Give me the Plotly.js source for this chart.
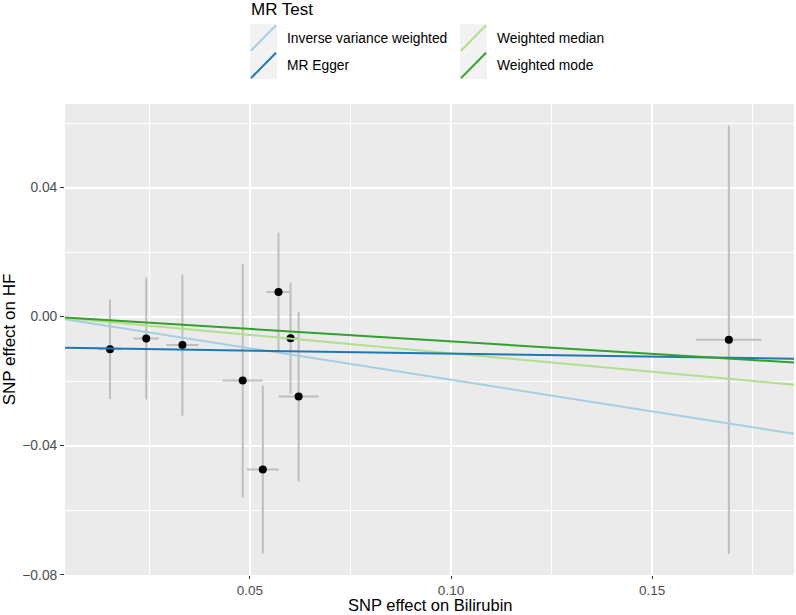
<!DOCTYPE html>
<html>
<head>
<meta charset="utf-8">
<script src="https://cdn.plot.ly/plotly-3.0.1.min.js"></script>
<style>
  html, body { margin: 0; padding: 0; background: #ffffff; }
  #chart { width: 796px; height: 615px; }
</style>
</head>
<body>
<div id="chart"></div>
<script>

// ==========================================================
// DATA  (SNP effects)
// ==========================================================

let snpX   = [0.0152, 0.0242, 0.0332, 0.0482, 0.0532, 0.0571, 0.0601, 0.0621, 0.1691];
let snpXse = [0.0030, 0.0031, 0.0040, 0.0050, 0.0040, 0.0030, 0.0021, 0.0050, 0.0081];

let snpY   = [-0.0101, -0.0068, -0.0088, -0.0198, -0.0474, 0.0076, -0.0067, -0.0248, -0.0072];
let snpYse = [ 0.0154,  0.0189,  0.0219,  0.0362,  0.0260, 0.0184,  0.0172,  0.0263,  0.0664];

// MR methods (legend order: row by row)
let methods    = ["Inverse variance weighted", "Weighted median", "MR Egger", "Weighted mode"];
let slopes     = [-0.196, -0.114, -0.0188, -0.0768];
let intercepts = [0, 0, -0.0096, 0];
let lineColors = ["#A6CEE3", "#B2DF8A", "#1F78B4", "#33A02C"];

let xRange = [0.004, 0.1853];
let yRange = [-0.0801, 0.0659];


// ==========================================================
// PIXEL -> PAPER HELPERS (legend and x title placement)
// ==========================================================

const PL = 65, PR = 794, PT = 104, PB = 575;

function px(x){ return (x - PL) / (PR - PL); }
function py(y){ return (PB - y) / (PB - PT); }


// ==========================================================
// TRACES
// ==========================================================

let traces = [];

// points with grey error bars
traces.push({
    x: snpX,
    y: snpY,
    type: "scatter",
    mode: "markers",
    marker: { color: "#000000", size: 8 },
    error_x: { type: "data", array: snpXse, visible: true, color: "#BEBEBE", thickness: 2, width: 0 },
    error_y: { type: "data", array: snpYse, visible: true, color: "#BEBEBE", thickness: 2, width: 0 },
    showlegend: false,
    hoverinfo: "x+y"
});

// regression lines (abline across the panel)
methods.forEach((name, i) => {
    traces.push({
        x: xRange,
        y: xRange.map(v => intercepts[i] + slopes[i] * v),
        type: "scatter",
        mode: "lines",
        name: name,
        line: { color: lineColors[i], width: 2 },
        showlegend: false
    });
});


// ==========================================================
// LEGEND (ggplot style keys)
// ==========================================================

let shapes = [];
let annotations = [];

let keyCols = [250, 460];
let keyRows = [24.3, 51.7];
let keyW = 27, keyH = 27.4;

methods.forEach((name, i) => {
    let col = i % 2;
    let row = Math.floor(i / 2);
    let x0 = keyCols[col], y0 = keyRows[row];

    shapes.push({
        type: "rect", xref: "paper", yref: "paper",
        x0: px(x0), x1: px(x0 + keyW), y0: py(y0), y1: py(y0 + keyH),
        fillcolor: "#F2F2F2", line: { width: 0 }, layer: "above"
    });

    shapes.push({
        type: "line", xref: "paper", yref: "paper",
        x0: px(x0 + 1), y0: py(y0 + keyH - 1), x1: px(x0 + keyW - 1), y1: py(y0 + 1),
        line: { color: lineColors[i], width: 2 }, layer: "above"
    });

    annotations.push({
        xref: "paper", yref: "paper",
        x: px(x0 + 35), y: py(y0 + keyH / 2),
        xanchor: "left", yanchor: "middle",
        text: name, showarrow: false,
        font: { size: 13.8, color: "#000000" }
    });
});

annotations.push({
    xref: "paper", yref: "paper",
    x: px(249), y: py(9),
    xanchor: "left", yanchor: "middle",
    text: "MR Test", showarrow: false,
    font: { size: 17, color: "#000000" }
});

// x axis title, placed by hand to sit tight under the tick labels
annotations.push({
    xref: "paper", yref: "paper",
    x: 0.5, y: py(605),
    xanchor: "center", yanchor: "middle",
    text: "SNP effect on Bilirubin", showarrow: false,
    borderpad: 0,
    font: { size: 16.5, color: "#000000" }
});


// ==========================================================
// LAYOUT
// ==========================================================

let layout = {
    width: 796,
    height: 615,
    margin: { l: PL, r: 796 - PR, t: PT, b: 615 - PB },
    paper_bgcolor: "#FFFFFF",
    plot_bgcolor: "#EBEBEB",
    font: { family: "Liberation Sans, Arial, sans-serif", color: "#000000" },
    showlegend: false,
    xaxis: {
        range: xRange,
        tick0: 0, dtick: 0.05, tickformat: ".2f",
        ticks: "outside", ticklen: 3, tickwidth: 1, tickcolor: "#333333",
        tickfont: { size: 13.5, color: "#4D4D4D" },
        showgrid: true, gridcolor: "#FFFFFF", gridwidth: 2,
        minor: { tick0: 0, dtick: 0.025, showgrid: true, gridcolor: "#FFFFFF", gridwidth: 1, ticks: "" },
        zeroline: false, showline: false
    },
    yaxis: {
        range: yRange,
        tick0: 0, dtick: 0.04, tickformat: ".2f",
        ticks: "outside", ticklen: 4, tickwidth: 1, tickcolor: "#333333",
        tickfont: { size: 13.8, color: "#4D4D4D" },
        showgrid: true, gridcolor: "#FFFFFF", gridwidth: 2,
        minor: { tick0: 0, dtick: 0.02, showgrid: true, gridcolor: "#FFFFFF", gridwidth: 1, ticks: "" },
        zeroline: false, showline: false,
        title: { text: "SNP effect on HF", font: { size: 17, color: "#000000" }, standoff: 6 }
    },
    shapes: shapes,
    annotations: annotations
};

Plotly.newPlot("chart", traces, layout, { staticPlot: true, displayModeBar: false });

</script>
</body>
</html>
